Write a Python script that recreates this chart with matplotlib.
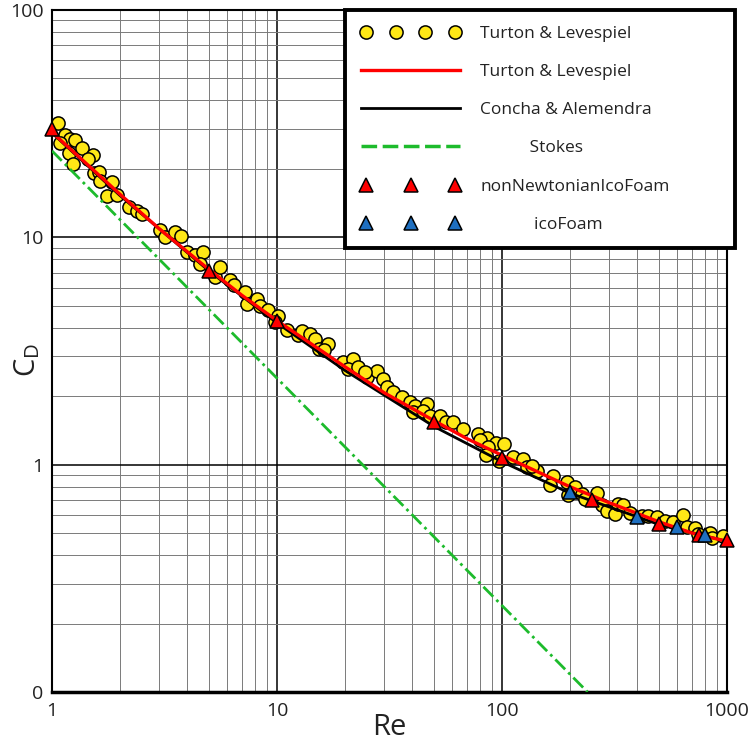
import numpy as np
import matplotlib
matplotlib.use("Agg")
import matplotlib.pyplot as plt
from matplotlib.lines import Line2D
from matplotlib.legend_handler import HandlerLine2D
from matplotlib.ticker import LogLocator, NullFormatter

plt.rcParams.update({
    "font.family": ["Open Sans", "DejaVu Sans"],
    "mathtext.default": "regular",
})

# ------------------------------------------------------------
# Data
# ------------------------------------------------------------

# experimental points, Turton & Levespiel
re_exp = [
    1.06, 1.14, 1.20, 1.27, 1.09, 1.36, 1.19, 1.52, 1.45, 1.24, 1.53, 1.61, 1.63, 1.84,
    1.75, 1.94, 2.21, 2.38, 2.50, 3.02, 3.18, 3.52, 3.73, 3.97, 4.32, 4.70, 4.55, 5.30,
    5.58, 6.18, 6.46, 7.20, 7.33, 8.13, 8.40, 9.15, 10.1, 9.80, 11.1, 12.4,
    12.9, 14.0, 14.7, 15.3, 16.8, 16.1, 19.7, 21.7, 20.7, 23.0, 25.0, 27.8,
    24.6, 29.7, 30.7, 32.9, 35.8, 39.0, 41.1, 40.3, 46.3, 44.7, 47.9, 53.0, 56.4, 60.8,
    66.9, 78.5, 85.5, 79.8, 94.0, 102, 86.9, 84.9, 97.3, 112, 124, 129, 143,
    136, 168, 163, 194, 211, 197, 226, 234, 265, 277, 292, 318, 329, 346,
    371, 418, 447, 487, 530, 577, 635, 662, 721, 745, 840, 855, 963,
]
cd_exp = [
    31.7, 28.1, 27.2, 26.9, 25.9, 24.6, 23.5, 23.0, 22.0, 21.0, 19.2, 19.4, 17.7, 17.5,
    15.2, 15.3, 13.6, 13.1, 12.7, 10.8, 10.0, 10.6, 10.1, 8.61, 8.33, 8.61, 7.66, 6.68,
    7.40, 6.51, 6.19, 5.74, 5.11, 5.37, 5.01, 4.77, 4.53, 4.24, 3.92, 3.70,
    3.86, 3.77, 3.58, 3.23, 3.40, 3.18, 2.82, 2.92, 2.64, 2.70, 2.42, 2.59,
    2.55, 2.39, 2.19, 2.08, 1.99, 1.88, 1.82, 1.70, 1.85, 1.73, 1.64, 1.64, 1.54, 1.54,
    1.44, 1.36, 1.31, 1.28, 1.24, 1.23, 1.19, 1.10, 1.04, 1.08, 1.06, 0.973, 0.941,
    0.990, 0.895, 0.817, 0.836, 0.800, 0.738, 0.743, 0.706, 0.748, 0.667, 0.627, 0.606, 0.671,
    0.667, 0.610, 0.596, 0.596, 0.590, 0.567, 0.557, 0.602, 0.533, 0.526, 0.495, 0.503, 0.475, 0.487,
]

# correlation, Turton & Levespiel
re_turton = [1, 2, 3, 5, 7, 10, 20, 30, 50, 70, 100, 200, 300, 500, 700, 1000]
cd_turton = [29.0, 15.5, 10.9, 7.2, 5.55, 4.3, 2.7, 2.07, 1.56, 1.30, 1.10, 0.80, 0.68, 0.56, 0.50, 0.46]

# Concha & Alemendra
re_concha = [1, 2, 5, 10, 20, 50, 100, 200, 500, 1000]
cd_concha = [28.8, 15.3, 7.1, 4.2, 2.6, 1.47, 1.03, 0.75, 0.545, 0.46]

# Stokes
re_stokes = [1, 10, 100, 240]
cd_stokes = [24, 2.4, 0.24, 0.1]

# simulations
re_nonnewt = [1, 5, 10, 50, 100, 250, 500, 750, 1000]
cd_nonnewt = [30, 7.1, 4.3, 1.54, 1.07, 0.70, 0.55, 0.49, 0.466]

re_ico = [200, 400, 600, 800]
cd_ico = [0.755, 0.59, 0.53, 0.49]

xticks = [1, 10, 100, 1000]
xticklabels = ["1", "10", "100", "1000"]
yticks = [0.1, 1, 10, 100]
yticklabels = ["0", "1", "10", "100"]

# ------------------------------------------------------------
# Figure
# ------------------------------------------------------------

fig = plt.figure(figsize=(7.5, 7.45), dpi=100)
ax = fig.add_axes([52 / 750, 1 - 692 / 745, 675 / 750, 682 / 745])

ax.set_xscale("log")
ax.set_yscale("log")
ax.set_xlim(1, 1000)
ax.set_ylim(0.1, 100)

# grid
ax.xaxis.set_minor_locator(LogLocator(base=10, subs=np.arange(2, 10)))
ax.yaxis.set_minor_locator(LogLocator(base=10, subs=np.arange(2, 10)))
ax.xaxis.set_minor_formatter(NullFormatter())
ax.yaxis.set_minor_formatter(NullFormatter())
ax.grid(which="major", color="black", lw=1.1)
ax.grid(which="minor", color="#7a7a7a", lw=0.7)
ax.set_axisbelow(True)

yellow = "#FFE816"
green = "#1DBB2C"

pts, = ax.plot(re_exp, cd_exp, ls="none", marker="o", ms=9.5,
               mfc=yellow, mec="black", mew=1.1, zorder=3)
ax.plot(re_stokes, cd_stokes, color=green, lw=2, dashes=(5, 1.6, 1, 1.6), zorder=3)
blk, = ax.plot(re_concha, cd_concha, color="black", lw=2, zorder=4)
red, = ax.plot(re_turton, cd_turton, color="red", lw=2.4, zorder=5)
tri_r, = ax.plot(re_nonnewt, cd_nonnewt, ls="none", marker="^", ms=10,
                 mfc="red", mec="black", mew=1.1, zorder=6, clip_on=False)
tri_b, = ax.plot(re_ico, cd_ico, ls="none", marker="^", ms=10,
                 mfc="#1E6FC0", mec="black", mew=1.1, zorder=6, clip_on=False)

stokes_proxy = Line2D([], [], color=green, lw=2.5, dashes=(4.5, 1.6))

# ticks
ax.set_xticks(xticks)
ax.set_xticklabels(xticklabels)
ax.set_yticks(yticks)
ax.set_yticklabels(yticklabels)
ax.tick_params(which="both", length=0)
ax.tick_params(axis="x", labelsize=14, pad=7, colors="#222222")
ax.tick_params(axis="y", labelsize=14, pad=6, colors="#222222")

ax.set_xlabel("Re", fontsize=21, labelpad=-5, color="#222222")
ax.set_ylabel("C$_D$", fontsize=21, color="#222222")
ax.yaxis.set_label_coords(-0.014, 0.487)

for side in ["left", "top", "right"]:
    ax.spines[side].set_color("black")
    ax.spines[side].set_linewidth(1.5)
ax.spines["bottom"].set_color("black")
ax.spines["bottom"].set_linewidth(2.5)

# legend
handles = [pts, red, blk, stokes_proxy, tri_r, tri_b]
labels = [
    "Turton & Levespiel",
    "Turton & Levespiel",
    "Concha & Alemendra",
    "           Stokes",
    "nonNewtonianIcoFoam",
    "            icoFoam",
]
leg = ax.legend(
    handles, labels,
    handler_map={pts: HandlerLine2D(numpoints=4),
                 tri_r: HandlerLine2D(numpoints=3),
                 tri_b: HandlerLine2D(numpoints=3)},
    loc="upper left",
    bbox_to_anchor=(345 / 750, 0, 390 / 750, 735 / 745),
    bbox_transform=fig.transFigure,
    mode="expand",
    borderaxespad=0,
    fontsize=12.5,
    handlelength=5.75,
    handletextpad=1.15,
    labelspacing=1.27,
    borderpad=0.9,
    fancybox=False,
    framealpha=1,
    edgecolor="black",
)
leg.get_frame().set_linewidth(2.8)
leg.set_zorder(10)
for t in leg.get_texts():
    t.set_color("#222222")

fig.savefig("out.png", dpi=100)
